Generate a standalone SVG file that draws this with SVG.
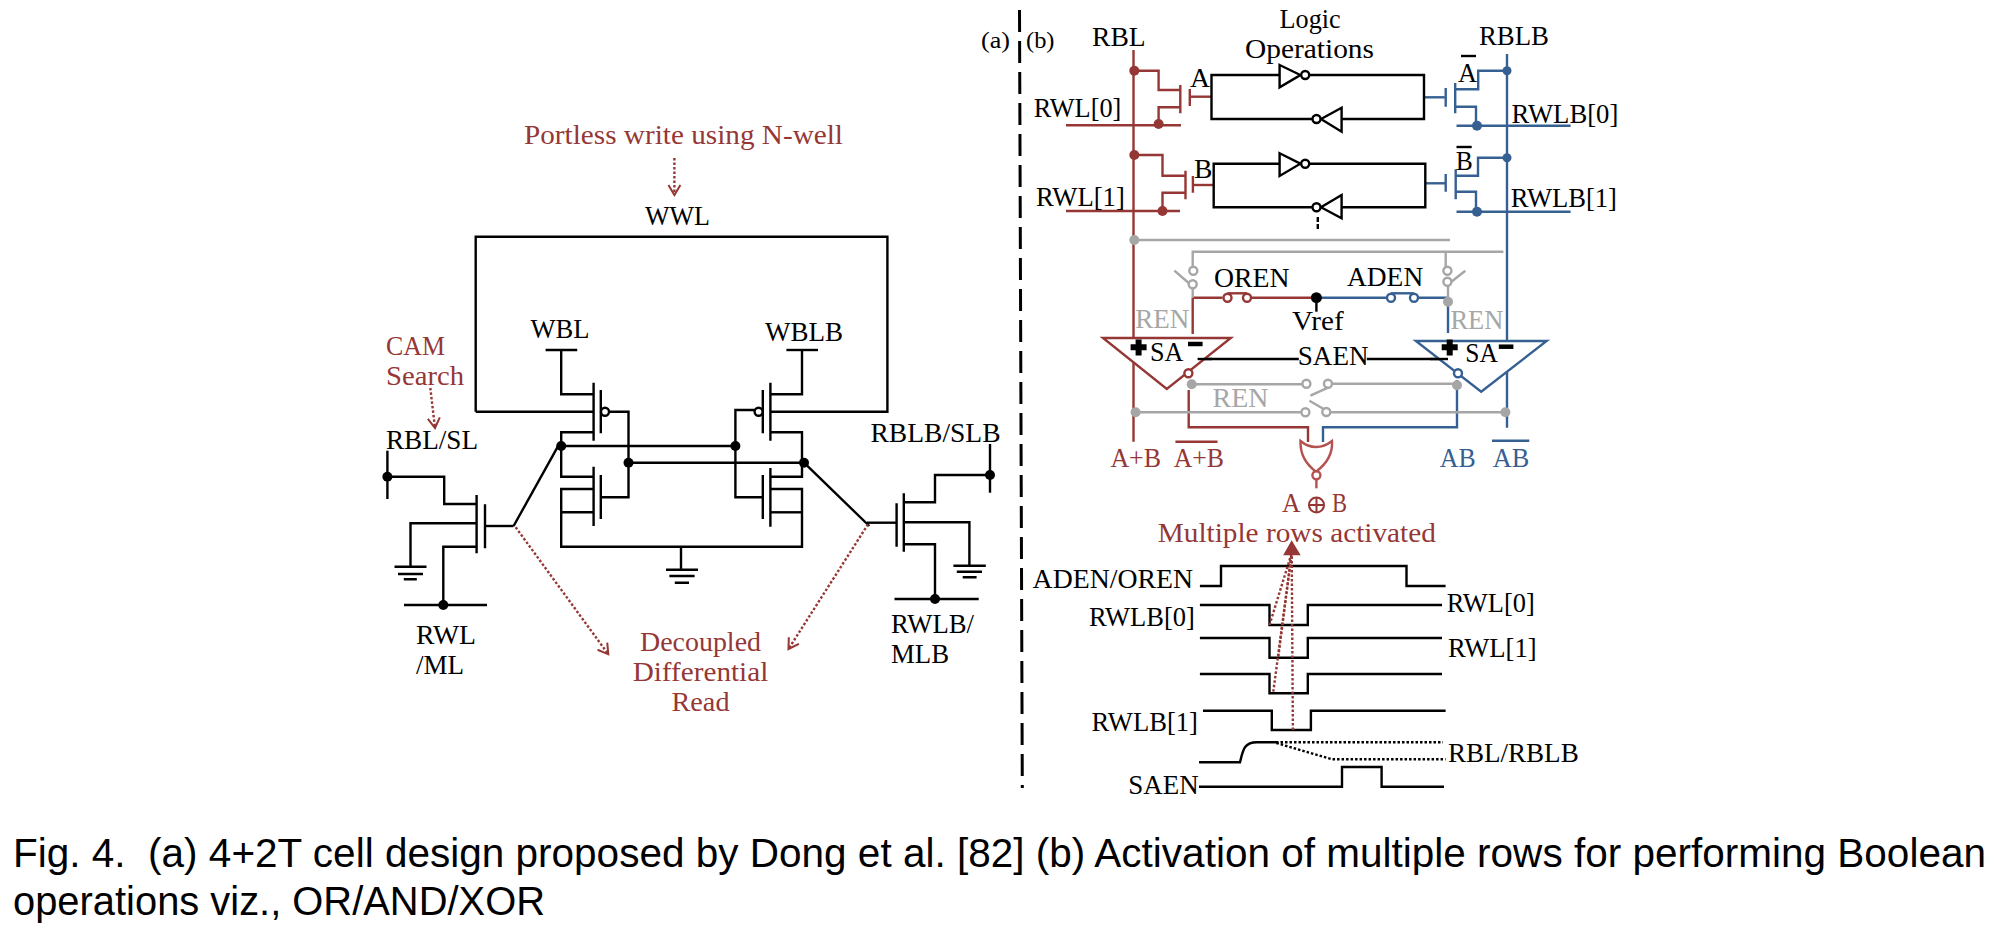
<svg xmlns="http://www.w3.org/2000/svg" width="1996" height="936" viewBox="0 0 1996 936">
<style>
text{font-family:"Liberation Serif","Times New Roman",serif;font-size:27px;fill:#000;white-space:pre}
.r{fill:#953735}.bl{fill:#366092}.g{fill:#a6a6a6}
.s{font-size:23px}
.cap{font-family:"Liberation Sans",Arial,sans-serif;font-size:38px}
path,line,polyline,polygon,circle{fill:none;stroke:#000;stroke-width:2.4}
.wr path,.wr line,.wr circle,.wr polygon,path.wr,line.wr{stroke:#953735}
.wb path,.wb line,.wb circle,.wb polygon,path.wb,line.wb{stroke:#366092}
.wg path,.wg line,.wg circle,path.wg,line.wg{stroke:#a6a6a6}
circle.d{fill:#000;stroke:none}
circle.dr{fill:#953735;stroke:none}
circle.db{fill:#366092;stroke:none}
circle.dg{fill:#a6a6a6;stroke:none}
circle.o{fill:#fff}
polygon.t{fill:#fff}
.dot{stroke:#953735;stroke-width:2.4;stroke-dasharray:2.5 2}
.dk{stroke-width:2.4;stroke-dasharray:2.5 2}
</style>
<defs>
<marker id="chev" markerUnits="userSpaceOnUse" markerWidth="14" markerHeight="16" refX="12" refY="8" orient="auto">
<path d="M2,2 L12,8 L2,14" style="stroke:#953735;stroke-width:2"/>
</marker>
</defs>

<g id="connectors">
<!-- cell a -->
<path d="M475.7,411.7V236.7H887.4V411.7H770.4"/>
<path d="M475.7,411.7H593.6"/>
<path d="M561.2,350V394.3H593.6"/>
<path d="M545.6,350H577.2"/>
<path d="M802,350V394.3H770.4"/>
<path d="M786.4,350H818"/>
<path d="M593.6,432.3H561.2V476.7H593.6"/>
<path d="M770.4,432.3H802V476.7H770.4"/>
<path d="M609,411.7H628.5V497.3H600.8"/>
<path d="M754.5,410H735.4V497.3H762.8"/>
<path d="M561.2,446H735.4"/>
<path d="M628.5,462.7H804"/>
<path d="M593.6,489H561.2V546.7H802V489H770.4"/>
<path d="M593.6,512.3H561.2"/>
<path d="M770.4,512.3H802"/>
<path d="M681,546.7V569.5"/>
<path d="M513.6,526L557.8,446.7"/>
<path d="M804,462.7L869.3,526"/>
<path d="M387.4,450.7V499"/>
<path d="M387.4,476.7H444.2V504H476.6"/>
<path d="M485,526H513.6"/>
<path d="M476.6,523.3H410.5V566.7"/>
<path d="M476.6,546.7H443.3V605"/>
<path d="M404,605H487"/>
<path d="M990,444V492.7"/>
<path d="M990,475H935V502.3H903.8"/>
<path d="M867,522.7H896.6"/>
<path d="M903.8,522.3H969.4V565"/>
<path d="M903.8,544.3H935V599"/>
<path d="M894.5,599H978.7"/>
<line class="dot" x1="674.4" y1="158" x2="674.4" y2="195" marker-end="url(#chev)"/>
<line class="dot" x1="430.3" y1="388" x2="435" y2="428" marker-end="url(#chev)"/>
<line class="dot" x1="515.7" y1="527.3" x2="608.3" y2="654.3" marker-end="url(#chev)"/>
<line class="dot" x1="868" y1="524.3" x2="788.5" y2="649" marker-end="url(#chev)"/>

<!-- divider -->
<line x1="1019.5" y1="10" x2="1022.3" y2="788" style="stroke-width:3;stroke-dasharray:22 9"/>

<!-- bitlines -->
<g class="wr">
<path d="M1133.5,50V441.7"/>
<path d="M1134.3,70.7H1158.6V90H1180.3"/>
<path d="M1180.3,107.3H1158.6V124"/>
<path d="M1066,125.3H1181"/>
<path d="M1189.8,96.7H1211.5"/>
<path d="M1134.3,155H1162.5V175.7H1185.5"/>
<path d="M1185.5,192.7H1162.5V211"/>
<path d="M1066,211H1180"/>
<path d="M1192.9,185H1213.7"/>
<path d="M1192.7,297.7H1222.5M1252,297.7H1316.4"/>
<path d="M1192.7,297.7V334"/>
<path d="M1188.7,390V427.3H1308V442"/>
</g>
<g class="wb">
<path d="M1507,54V427.7"/>
<path d="M1424,97.3H1444.8"/>
<path d="M1455.2,89.3H1478.2V70.7H1507"/>
<path d="M1455.2,106.7H1476V125.7"/>
<path d="M1456.5,125.7H1570.6"/>
<path d="M1425,183.3H1445.7"/>
<path d="M1455.7,175.7H1478V157.7H1507"/>
<path d="M1455.7,191.7H1476V211.7"/>
<path d="M1456.5,211.7H1570.6"/>
<path d="M1316.4,297.7H1386.7M1418,297.7H1448"/>
<path d="M1448,305V333"/>
<path d="M1457,380V427.3H1323V442"/>
</g>
<!-- latches -->
<path d="M1279.6,75H1211.5V119H1312M1309.5,75H1424V119H1341.6"/>
<path d="M1279.6,163.7H1213.7V207.3H1312M1309.5,163.7H1425.3V207.3H1341.6"/>
<path d="M1317.8,217V231" style="stroke-dasharray:5 2"/>
<!-- gray -->
<g class="wg">
<path d="M1134.3,240H1450"/>
<path d="M1192.7,266.7V251.7H1503.4"/>
<path d="M1445.7,251.7V266.7"/>
<path d="M1192.7,288V297.7"/>
<path d="M1448,286V297"/>
<path d="M1191.7,384.3H1302M1332,383.7H1457"/>
<path d="M1135.6,412.3H1301M1330.5,412.3H1505.4"/>
</g>
<!-- SAEN -->
<path d="M1197.6,359H1298.8"/>
<path d="M1366.8,359H1448"/>
<!-- waveforms -->
<path d="M1199.9,586H1221V566H1406.5V586H1445.6"/>
<path d="M1199.9,605H1269.5V625H1307.8V605H1442"/>
<path d="M1199.9,638H1269.5V657.7H1307.8V638H1442"/>
<path d="M1199.9,674H1269.5V693.3H1307.8V674H1442"/>
<path d="M1203,710.7H1271.8V730H1310.9V710.7H1445.6"/>
<path d="M1199,762.3H1240C1243,750 1244,742.3 1257,742.3H1276"/>
<path class="dk" d="M1276,742.3H1443"/>
<path class="dk" d="M1276.4,743L1332,759.3H1445.6"/>
<path d="M1199,786.7H1342V767H1381.6V786.7H1444"/>
<line class="dot" x1="1269.5" y1="625" x2="1291.7" y2="553"/>
<line class="dot" x1="1278.3" y1="656.7" x2="1291.7" y2="553"/>
<line class="dot" x1="1273.3" y1="691.7" x2="1291.7" y2="553"/>
<line class="dot" x1="1292.9" y1="730" x2="1291.7" y2="553"/>
</g>

<g id="cell-a-transistors">
<g id="m-wl"><path d="M593.6,382.7V440.7M600.8,390V433.3"/><circle class="o" cx="605" cy="411.7" r="4"/></g>
<g id="m-wr"><path d="M770.4,382.7V440.7M762.8,390V433.3"/><circle class="o" cx="758.6" cy="411.7" r="4"/></g>
<g id="m-nl"><path d="M593.6,466.7V526M600.8,475V519"/></g>
<g id="m-nr"><path d="M770.4,468V526.7M762.8,475V519"/></g>
<g id="m-rl"><path d="M476.6,495V553.3M485,504.3V548.3"/></g>
<g id="m-rr"><path d="M903.8,493.3V551.7M896.6,503.3V546.7"/></g>
<g id="gnd-l"><path d="M394.5,566.7H426.5M398,574H423M403.8,579.3H416.8"/></g>
<g id="gnd-c"><path d="M666,569.7H698M669.4,576H694.6M674.8,582.7H689"/></g>
<g id="gnd-r"><path d="M953.4,565.7H985.8M956.8,571.7H982M962.7,577.3H976.6"/></g>
<circle class="d" cx="561.2" cy="446" r="5"/>
<circle class="d" cx="735.4" cy="446" r="5"/>
<circle class="d" cx="628.5" cy="462.7" r="5"/>
<circle class="d" cx="804" cy="462.7" r="5"/>
<circle class="d" cx="387.4" cy="476.7" r="5"/>
<circle class="d" cx="443.3" cy="605" r="5"/>
<circle class="d" cx="990" cy="475" r="5"/>
<circle class="d" cx="935" cy="599" r="5"/>
</g>

<g id="cell-b-devices">
<g id="m-r0" class="wr"><path d="M1180.3,85V113.3M1189.8,89V106"/></g>
<g id="m-r1" class="wr"><path d="M1185.5,170.7V199.3M1192.9,176V192.7"/></g>
<g id="m-b0" class="wb"><path d="M1455.2,83V113.3M1445.7,88V106.7"/></g>
<g id="m-b1" class="wb"><path d="M1455.7,169.3V199.3M1445.7,174V191.7"/></g>
<circle class="dr" cx="1134.3" cy="70.7" r="5"/><circle class="dr" cx="1158.6" cy="124" r="5"/>
<circle class="dr" cx="1134.3" cy="155" r="5"/><circle class="dr" cx="1162.5" cy="211" r="5"/>
<circle class="db" cx="1507" cy="70.7" r="4.5"/><circle class="db" cx="1477" cy="125.7" r="5"/>
<circle class="db" cx="1507" cy="157.7" r="4.5"/><circle class="db" cx="1477" cy="211.7" r="5"/>
<circle class="dg" cx="1134.3" cy="240" r="5"/>
<circle class="dg" cx="1135.6" cy="412.3" r="5"/>
<circle class="dg" cx="1505.4" cy="412.3" r="5"/>
<circle class="dg" cx="1448" cy="301.7" r="5"/>
<g id="inv-a1"><polygon class="t" points="1279.6,65 1300.4,75 1279.6,87.3"/><circle class="o" cx="1305.2" cy="75" r="4"/></g>
<g id="inv-a2"><polygon class="t" points="1341.6,107.7 1321,119 1341.6,131.7"/><circle class="o" cx="1316.5" cy="119" r="4"/></g>
<g id="inv-b1"><polygon class="t" points="1279.6,153.3 1300.4,163.7 1279.6,176"/><circle class="o" cx="1305.2" cy="163.7" r="4"/></g>
<g id="inv-b2"><polygon class="t" points="1341.6,195 1321,207.3 1341.6,218.3"/><circle class="o" cx="1316.5" cy="207.3" r="4"/></g>
<g id="sw-l" class="wg"><circle class="o" cx="1193.3" cy="270.7" r="4"/><circle class="o" cx="1192.7" cy="284.3" r="4"/><line x1="1174.4" y1="270.7" x2="1188.7" y2="283"/></g>
<g id="sw-r" class="wg"><circle class="o" cx="1447.4" cy="270.7" r="4"/><circle class="o" cx="1447.4" cy="281.7" r="4"/><line x1="1451.4" y1="281.7" x2="1465.3" y2="270.7"/></g>
<g id="sw-or" class="wr"><path d="M1227.5,293.3H1247"/><circle class="o" cx="1227.5" cy="297.7" r="4"/><circle class="o" cx="1247" cy="297.7" r="4"/></g>
<g id="sw-ad" class="wb"><path d="M1391,293.3H1414"/><circle class="o" cx="1391" cy="297.7" r="4"/><circle class="o" cx="1414" cy="297.7" r="4"/></g>
<circle class="d" cx="1316.4" cy="297.7" r="5.5"/>
<line x1="1316.4" y1="297.7" x2="1316.4" y2="311.7"/>
<g id="sa-l" class="wr"><polygon class="t" points="1103,338 1230.8,338 1166.8,389"/><circle class="o" cx="1188.4" cy="373.3" r="4"/></g>
<g id="sa-r" class="wb"><polygon class="t" points="1415.9,341 1546.6,341 1481.2,391.7"/><circle class="o" cx="1458" cy="373.3" r="4"/></g>
<path d="M1197.6,359H1212" />
<path d="M1430,359H1448"/>
<path d="M1138.6,339.5V355.5M1130.6,347.3H1146.6" style="stroke-width:6"/>
<path d="M1188,344H1202.6" style="stroke-width:4.5"/>
<path d="M1449.7,339.5V355.5M1441.7,347.3H1457.7" style="stroke-width:6"/>
<path d="M1498.8,346.7H1513.4" style="stroke-width:4.5"/>
<circle class="dg" cx="1191.7" cy="384.3" r="5"/>
<circle class="dg" cx="1457" cy="385.3" r="5"/>
<g id="sw-sa" class="wg">
<circle class="o" cx="1306.4" cy="383.7" r="4"/><circle class="o" cx="1328" cy="383.7" r="4"/>
<line x1="1310.4" y1="395.7" x2="1328" y2="387.7"/><line x1="1309.4" y1="400.7" x2="1323.7" y2="409"/>
<circle class="o" cx="1305.4" cy="412.3" r="4"/><circle class="o" cx="1326.3" cy="412" r="4"/>
</g>
<g id="xor">
<path d="M1300.5,441C1310,449 1322,449 1332,441C1333,455 1325,465 1316,471.7C1307,465 1300,455 1300.5,441Z" style="stroke:#b5524f;fill:#fff"/>
<circle class="o" cx="1316.4" cy="475.3" r="4" style="stroke:#b5524f"/>
<line x1="1316.4" y1="479.3" x2="1316.4" y2="488.3" style="stroke:#b5524f"/>
</g>
<path d="M1175.4,441.7H1217.5" class="wr"/>
<path d="M1492,440.7H1529.3" class="wb"/>
<path d="M1461,56H1476"/>
<path d="M1456.5,147H1471.7"/>
<polygon points="1291.7,542.7 1285.2,554 1298.6,554" style="fill:#953735;stroke:#953735"/>
<circle cx="1316.5" cy="505" r="7.5" style="stroke:#953735;stroke-width:2"/>
<path d="M1309,505H1324M1316.5,497.5V512.5" style="stroke:#953735;stroke-width:2"/>
</g>

<g id="labels">
<text class="r" x="524" y="144.3" textLength="319" lengthAdjust="spacingAndGlyphs">Portless write using N-well</text>
<text x="645" y="225" textLength="65" lengthAdjust="spacingAndGlyphs">WWL</text>
<text x="530.5" y="337.7" textLength="59" lengthAdjust="spacingAndGlyphs">WBL</text>
<text x="765" y="340.7" textLength="78" lengthAdjust="spacingAndGlyphs">WBLB</text>
<text class="r" x="386" y="355" textLength="59" lengthAdjust="spacingAndGlyphs">CAM</text>
<text class="r" x="386" y="385" textLength="78" lengthAdjust="spacingAndGlyphs">Search</text>
<text x="386" y="449" textLength="92" lengthAdjust="spacingAndGlyphs">RBL/SL</text>
<text x="870.5" y="442.3" textLength="130" lengthAdjust="spacingAndGlyphs">RBLB/SLB</text>
<text x="416" y="644.3" textLength="60" lengthAdjust="spacingAndGlyphs">RWL</text>
<text x="416" y="674.3" textLength="48" lengthAdjust="spacingAndGlyphs">/ML</text>
<text x="891" y="633.3" textLength="83" lengthAdjust="spacingAndGlyphs">RWLB/</text>
<text x="891" y="663.3" textLength="58" lengthAdjust="spacingAndGlyphs">MLB</text>
<text class="r" x="640" y="650.7" textLength="121" lengthAdjust="spacingAndGlyphs">Decoupled</text>
<text class="r" x="632.7" y="680.7" textLength="135.6" lengthAdjust="spacingAndGlyphs">Differential</text>
<text class="r" x="671.5" y="711" textLength="58" lengthAdjust="spacingAndGlyphs">Read</text>

<text class="s" x="981" y="48" textLength="29" lengthAdjust="spacingAndGlyphs">(a)</text>
<text class="s" x="1026" y="48" textLength="28.5" lengthAdjust="spacingAndGlyphs">(b)</text>
<text x="1092" y="45.7" textLength="53.6" lengthAdjust="spacingAndGlyphs">RBL</text>
<text x="1279.6" y="28" textLength="61" lengthAdjust="spacingAndGlyphs">Logic</text>
<text x="1245" y="58" textLength="129" lengthAdjust="spacingAndGlyphs">Operations</text>
<text x="1479" y="45" textLength="70" lengthAdjust="spacingAndGlyphs">RBLB</text>
<text x="1190" y="86.7" textLength="20" lengthAdjust="spacingAndGlyphs">A</text>
<text x="1458" y="81.7" textLength="19" lengthAdjust="spacingAndGlyphs">A</text>
<text x="1194" y="177.7" textLength="18.4" lengthAdjust="spacingAndGlyphs">B</text>
<text x="1455.7" y="170" textLength="17" lengthAdjust="spacingAndGlyphs">B</text>
<text x="1033.7" y="117.3" textLength="87.6" lengthAdjust="spacingAndGlyphs">RWL[0]</text>
<text x="1036" y="206" textLength="88.8" lengthAdjust="spacingAndGlyphs">RWL[1]</text>
<text x="1511.6" y="122.7" textLength="106.7" lengthAdjust="spacingAndGlyphs">RWLB[0]</text>
<text x="1510.7" y="207.3" textLength="106.3" lengthAdjust="spacingAndGlyphs">RWLB[1]</text>
<text x="1214" y="287.3" textLength="75.5" lengthAdjust="spacingAndGlyphs">OREN</text>
<text x="1347" y="286" textLength="76.2" lengthAdjust="spacingAndGlyphs">ADEN</text>
<text x="1292" y="330" textLength="51.6" lengthAdjust="spacingAndGlyphs">Vref</text>
<text class="g" x="1135.3" y="327.7" textLength="54" lengthAdjust="spacingAndGlyphs">REN</text>
<text class="g" x="1450.4" y="329.3" textLength="53" lengthAdjust="spacingAndGlyphs">REN</text>
<text class="g" x="1212.6" y="406.7" textLength="55.7" lengthAdjust="spacingAndGlyphs">REN</text>
<text x="1150" y="360.7" textLength="33.4" lengthAdjust="spacingAndGlyphs">SA</text>
<text x="1465.3" y="362.3" textLength="32.5" lengthAdjust="spacingAndGlyphs">SA</text>
<text x="1297.8" y="365" textLength="70.7" lengthAdjust="spacingAndGlyphs">SAEN</text>
<text class="r" x="1110.4" y="467.3" textLength="50.6" lengthAdjust="spacingAndGlyphs">A+B</text>
<text class="r" x="1173.8" y="467.3" textLength="50.2" lengthAdjust="spacingAndGlyphs">A+B</text>
<text class="bl" x="1439.8" y="467.3" textLength="35.8" lengthAdjust="spacingAndGlyphs">AB</text>
<text class="bl" x="1492.8" y="467.3" textLength="36.5" lengthAdjust="spacingAndGlyphs">AB</text>
<text class="r" x="1282" y="511.7" textLength="18.5" lengthAdjust="spacingAndGlyphs">A</text>
<text class="r" x="1332" y="511.7" textLength="15" lengthAdjust="spacingAndGlyphs">B</text>
<text class="r" x="1157.8" y="542.3" textLength="278" lengthAdjust="spacingAndGlyphs">Multiple rows activated</text>
<text x="1032.6" y="588.3" textLength="160.4" lengthAdjust="spacingAndGlyphs">ADEN/OREN</text>
<text x="1088.9" y="626" textLength="106" lengthAdjust="spacingAndGlyphs">RWLB[0]</text>
<text x="1446.7" y="611.7" textLength="88" lengthAdjust="spacingAndGlyphs">RWL[0]</text>
<text x="1447.9" y="657.3" textLength="88.7" lengthAdjust="spacingAndGlyphs">RWL[1]</text>
<text x="1091.6" y="731" textLength="106.4" lengthAdjust="spacingAndGlyphs">RWLB[1]</text>
<text x="1447.9" y="762.3" textLength="130.8" lengthAdjust="spacingAndGlyphs">RBL/RBLB</text>
<text x="1128.3" y="794" textLength="70.4" lengthAdjust="spacingAndGlyphs">SAEN</text>
</g>

<g id="caption">
<text class="cap" transform="translate(13 866.7) scale(1 1.08)" textLength="1973" lengthAdjust="spacingAndGlyphs">Fig. 4.  (a) 4+2T cell design proposed by Dong et al. [82] (b) Activation of multiple rows for performing Boolean</text>
<text class="cap" transform="translate(13 915) scale(1 1.08)" textLength="532" lengthAdjust="spacingAndGlyphs">operations viz., OR/AND/XOR</text>
</g>
</svg>
